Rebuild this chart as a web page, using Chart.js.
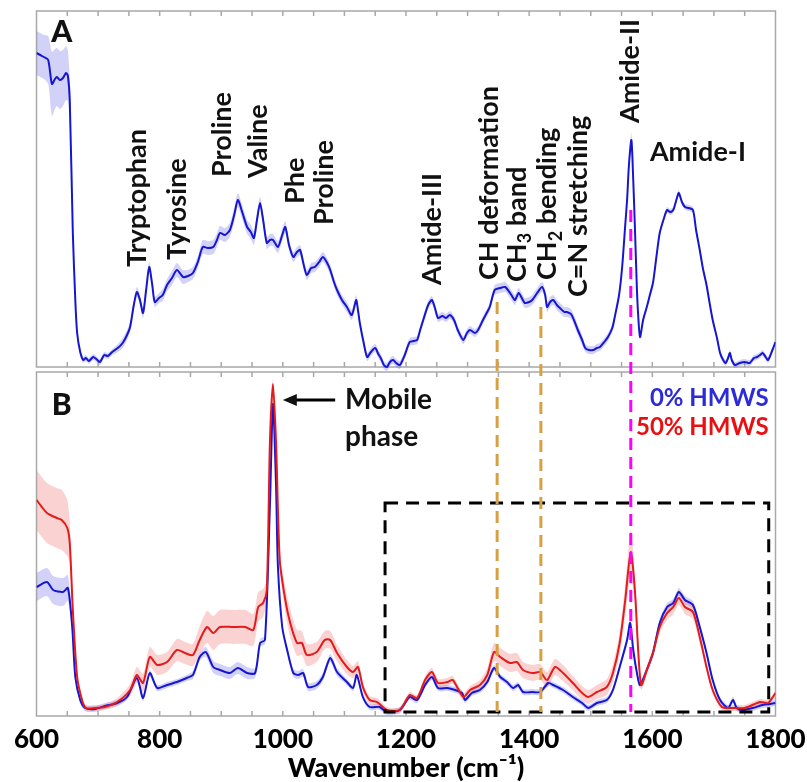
<!DOCTYPE html>
<html>
<head>
<meta charset="utf-8">
<script src="https://cdn.jsdelivr.net/npm/chart.js@4.4.1/dist/chart.umd.min.js"></script>
<style>
  html, body { margin: 0; padding: 0; background: #fff; }
</style>
</head>
<body>
<canvas id="chart" width="807" height="782"></canvas>
<script>
// Espectros: [número de onda (cm-1), intensidad media (u.a.), desviación (u.a.)]
const spectrumA = [
  [600,314,22],[606,312,22],[612,310,22],[619,307,24],[625,283,32],[630,288,30],[633,290,29],[638,287,29],[643,289,28],[648,294,27],
  [651,291,25],[654,267,20],[659,134,8],[663,67,4],[666,34,3],[671,15,3],[676,7,3],[680,9,3],[685,6,3],[692,10,3],
  [697,8,3],[703,5,3],[710,12,3],[716,11,3],[723,15,3],[732,19,4],[740,24,5],[747,32,5],[752,40,5],[758,62,5],
  [763,75,5],[768,67,5],[773,54,5],[778,77,5],[783,100,5],[788,82,5],[792,65,5],[799,69,5],[805,72,6],[812,82,6],
  [820,89,7],[828,97,7],[838,90,7],[846,91,6],[854,94,6],[862,105,6],[870,120,7],[878,119,7],[887,120,7],[893,127,7],
  [898,134,7],[906,132,7],[914,137,7],[921,152,7],[927,167,7],[934,155,7],[942,140,7],[948,135,7],[953,129,7],[958,147,6],
  [963,164,6],[968,147,6],[974,124,6],[979,127,6],[984,127,6],[992,120,6],[999,132,6],[1004,140,6],[1010,122,5],[1017,110,5],
  [1023,115,5],[1028,117,5],[1034,102,5],[1039,92,5],[1046,99,5],[1052,100,5],[1059,105,5],[1065,110,5],[1072,104,5],[1077,97,5],
  [1083,85,5],[1088,77,5],[1096,67,5],[1104,60,5],[1112,52,5],[1119,67,5],[1122,57,4],[1125,44,4],[1132,22,4],[1137,10,4],
  [1143,15,4],[1150,19,4],[1155,13,4],[1159,9,4],[1164,2,4],[1169,0,4],[1174,5,4],[1179,7,4],[1184,4,4],[1190,2,4],
  [1198,12,4],[1206,25,4],[1213,26,4],[1218,27,4],[1223,37,4],[1228,47,4],[1236,62,4],[1242,67,4],[1247,59,4],[1252,49,4],
  [1259,51,4],[1265,49,4],[1271,52,4],[1278,47,4],[1284,37,4],[1293,27,4],[1299,34,4],[1304,37,4],[1312,34,4],[1317,37,4],
  [1325,47,4],[1331,54,4],[1336,60,4],[1344,77,5],[1353,79,5],[1361,80,5],[1369,74,5],[1374,69,5],[1377,67,5],[1383,74,5],
  [1388,69,5],[1393,64,5],[1400,65,5],[1405,67,5],[1413,74,5],[1421,80,5],[1426,72,5],[1429,60,5],[1434,65,5],[1439,67,5],
  [1445,62,5],[1450,59,5],[1457,55,5],[1461,55,5],[1468,53,5],[1474,45,5],[1479,37,5],[1486,27,5],[1491,19,4],[1497,17,4],
  [1504,17,4],[1510,19,4],[1515,20,4],[1522,25,4],[1528,30,4],[1535,39,4],[1539,50,4],[1546,72,4],[1551,100,4],[1556,142,4],
  [1559,167,5],[1562,202,6],[1566,227,7],[1569,187,5],[1572,134,4],[1575,77,3],[1577,52,3],[1580,30,3],[1585,47,3],[1591,60,3],
  [1596,72,3],[1601,84,3],[1607,112,3],[1612,134,3],[1619,149,3],[1624,157,3],[1629,155,3],[1634,157,3],[1639,167,3],[1643,174,3],
  [1648,165,3],[1653,160,3],[1659,159,3],[1666,157,3],[1671,137,3],[1677,117,3],[1682,99,3],[1688,82,3],[1693,64,3],[1698,47,3],
  [1705,29,3],[1710,14,3],[1715,7,3],[1719,4,3],[1723,9,3],[1726,14,3],[1729,7,3],[1734,2,3],[1742,4,3],[1750,5,3],
  [1758,4,3],[1765,9,3],[1770,10,3],[1775,12,3],[1779,14,3],[1784,10,3],[1788,7,3],[1795,17,3],[1800,25,3]
];

// Panel B, 0% HMWS
const spectrumB0 = [
  [600,129,14],[617,134,14],[627,126,14],[643,124,14],[651,128,13],[658,89,8],[663,39,4],[671,16,3],[679,8,3],[695,7,3],
  [711,10,3],[731,13,3],[747,19,3],[763,38,3],[773,18,3],[784,43,3],[796,28,3],[812,31,3],[828,34,3],[844,38,3],
  [854,41,4],[865,59,4],[875,64,5],[887,49,6],[898,46,6],[914,43,6],[927,48,6],[942,43,6],[955,43,5],[963,73,4],
  [971,76,4],[979,210,4],[984,312,4],[989,230,4],[992,150,4],[999,89,4],[1007,66,4],[1017,43,4],[1025,41,4],[1033,43,4],
  [1041,29,4],[1055,31,4],[1065,39,4],[1077,58,4],[1088,44,4],[1104,34,3],[1114,28,3],[1120,41,3],[1130,19,3],[1141,9,3],
  [1157,9,3],[1169,4,3],[1190,6,3],[1206,19,3],[1218,16,3],[1231,31,3],[1242,39,3],[1252,28,3],[1267,28,3],[1280,26,3],
  [1291,23,3],[1296,16,3],[1307,23,3],[1320,26,3],[1332,34,3],[1343,48,3],[1353,39,3],[1364,34,3],[1374,28,3],[1382,31,3],
  [1390,24,3],[1405,24,3],[1418,24,3],[1431,33,3],[1439,31,3],[1455,26,3],[1471,19,3],[1486,13,3],[1496,8,3],[1510,13,3],
  [1526,16,3],[1536,26,3],[1547,49,3],[1559,76,4],[1564,93,4],[1569,66,4],[1575,43,3],[1580,31,3],[1591,46,3],[1601,63,3],
  [1612,93,4],[1624,109,4],[1634,113,4],[1643,124,4],[1653,116,4],[1666,111,4],[1677,89,4],[1688,63,3],[1698,36,3],[1710,16,3],
  [1723,8,3],[1731,16,3],[1737,8,3],[1747,6,3],[1763,8,3],[1779,11,3],[1791,12,3],[1800,13,3]
];

// Panel B, 50% HMWS
const spectrumB50 = [
  [600,216,30],[617,203,30],[633,198,30],[641,196,30],[650,188,28],[654,173,20],[659,106,10],[666,39,4],[674,16,3],[680,8,3],
  [695,8,3],[711,9,3],[731,14,4],[752,26,6],[763,41,8],[773,33,9],[784,59,10],[796,51,10],[812,54,10],[828,66,11],
  [841,63,11],[854,61,11],[865,76,14],[877,89,16],[887,83,17],[898,89,17],[919,89,17],[939,89,17],[952,86,16],[960,109,15],
  [968,113,14],[974,126,10],[979,273,6],[984,332,5],[989,273,6],[995,156,10],[1004,116,13],[1012,93,14],[1023,73,13],[1031,73,12],
  [1039,61,11],[1055,64,10],[1068,76,9],[1077,76,9],[1088,63,8],[1104,49,7],[1114,44,6],[1122,49,6],[1130,29,5],[1141,16,4],
  [1153,14,4],[1169,6,3],[1190,6,3],[1206,21,3],[1218,18,3],[1231,36,4],[1242,44,4],[1252,33,4],[1267,34,4],[1276,36,4],
  [1293,19,4],[1304,26,4],[1320,31,5],[1332,41,7],[1343,64,9],[1353,59,9],[1369,53,9],[1380,54,9],[1390,46,8],[1406,43,8],
  [1418,44,8],[1429,36,8],[1442,49,8],[1455,43,8],[1471,33,7],[1486,23,7],[1496,19,7],[1510,24,7],[1526,29,8],[1536,43,9],
  [1547,73,11],[1556,116,16],[1565,164,22],[1572,123,14],[1577,66,8],[1582,31,5],[1591,46,5],[1601,63,5],[1612,89,6],[1624,103,7],
  [1634,109,7],[1643,118,7],[1653,109,7],[1666,104,7],[1677,79,6],[1688,49,5],[1698,26,4],[1713,9,3],[1731,8,3],[1750,8,3],
  [1775,14,3],[1788,13,3],[1800,23,3]
];

// Etiquetas de bandas en el panel A: [texto, número de onda, intensidad donde empieza el texto]
const bandLabels = [
  ['Tryptophan', 763, 100],
  ['Tyrosine', 828, 107],
  ['Proline', 901, 190],
  ['Valine', 960, 189],
  ['Phe', 1020, 163],
  ['Proline', 1068, 142],
  ['Amide-III', 1242, 82],
  ['CH deformation', 1336, 87],
  ['CH_3 band', 1380, 85],
  ['CH_2 bending', 1430, 87],
  ['C=N stretching', 1479, 70],
  ['Amide-II', 1564, 244]
];

// Líneas verticales discontinuas: número de onda, intensidad de inicio en A, color
const markerLines = [
  [1348, 65, '#d9a043'],
  [1419, 60, '#d9a043'],
  [1565, 157, '#ff00ff']
];

const xTicks = [600, 800, 1000, 1200, 1400, 1600, 1800];
const PANEL_A_MAX = 356;
const PANEL_B_MAX = 344;

const FONT = 'Lato, "Open Sans", sans-serif';
const BLUE = '#1616d2';
const RED = '#e31b1b';

function toPoints(rows, k) {
  return rows.map(r => ({ x: r[0], y: k === 0 ? r[1] : r[1] + k * r[2] }));
}

function bandSets(rows, axis, color, order) {
  return [
    { data: toPoints(rows, -1), yAxisID: axis, borderWidth: 0, pointRadius: 0, fill: false, order: order, tension: 0.25 },
    { data: toPoints(rows, 1), yAxisID: axis, borderWidth: 0, pointRadius: 0, fill: '-1', backgroundColor: color, order: order, tension: 0.25 }
  ];
}

const datasets = [
  ...bandSets(spectrumA, 'yA', 'rgba(95,95,230,0.28)', 10),
  ...bandSets(spectrumB0, 'yB', 'rgba(95,95,230,0.28)', 9),
  ...bandSets(spectrumB50, 'yB', 'rgba(240,105,105,0.3)', 8),
  { data: toPoints(spectrumA, 0), yAxisID: 'yA', borderColor: BLUE, borderWidth: 2, pointRadius: 0, fill: false, order: 2, tension: 0.25 },
  { data: toPoints(spectrumB0, 0), yAxisID: 'yB', borderColor: BLUE, borderWidth: 2, pointRadius: 0, fill: false, order: 1, tension: 0.25 },
  { data: toPoints(spectrumB50, 0), yAxisID: 'yB', borderColor: RED, borderWidth: 2, pointRadius: 0, fill: false, order: 0, tension: 0.25 }
];

// Marcos grises de los dos paneles con marcas hacia dentro
const framePlugin = {
  id: 'frames',
  beforeDatasetsDraw(chart) {
    const { ctx, chartArea: area, scales: { x, yA, yB } } = chart;
    const boxes = [
      [yA.getPixelForValue(PANEL_A_MAX), yA.getPixelForValue(0)],
      [yB.getPixelForValue(PANEL_B_MAX), yB.getPixelForValue(0)]
    ];
    ctx.save();
    ctx.strokeStyle = '#a8a8a8';
    ctx.lineWidth = 1.5;
    boxes.forEach(([top, bottom]) => {
      ctx.strokeRect(area.left, top, area.right - area.left, bottom - top);
      ctx.beginPath();
      for (let w = 650; w < 1800; w += 50) {
        const px = x.getPixelForValue(w);
        ctx.moveTo(px, top); ctx.lineTo(px, top + 5);
        ctx.moveTo(px, bottom); ctx.lineTo(px, bottom - 5);
      }
      ctx.stroke();
    });
    ctx.restore();
  }
};

function drawParts(ctx, text, size, align) {
  const parts = text.split(/_(\d)/);
  const main = 'bold ' + size + 'px ' + FONT;
  const sub = 'bold ' + Math.round(size * 0.68) + 'px ' + FONT;
  let total = 0;
  parts.forEach((p, i) => { ctx.font = i % 2 ? sub : main; total += ctx.measureText(p).width; });
  let cx = align === 'center' ? -total / 2 : 0;
  ctx.textAlign = 'left';
  ctx.textBaseline = 'middle';
  parts.forEach((p, i) => {
    ctx.font = i % 2 ? sub : main;
    ctx.fillText(p, cx, i % 2 ? size * 0.3 : 0);
    cx += ctx.measureText(p).width;
  });
}

// Anotaciones: líneas, recuadro, textos, flecha
const notesPlugin = {
  id: 'notes',
  afterDatasetsDraw(chart) {
    const { ctx, scales: { x, yA, yB } } = chart;
    ctx.save();

    // recuadro negro discontinuo
    ctx.setLineDash([13, 8]);
    ctx.lineWidth = 3;
    ctx.strokeStyle = '#000';
    const rx0 = x.getPixelForValue(1166), rx1 = x.getPixelForValue(1789);
    const ry0 = yB.getPixelForValue(213), ry1 = yB.getPixelForValue(4);
    ctx.strokeRect(rx0, ry0, rx1 - rx0, ry1 - ry0);

    // líneas verticales
    ctx.setLineDash([12, 7]);
    markerLines.forEach(([w, from, color]) => {
      const px = x.getPixelForValue(w);
      ctx.strokeStyle = color;
      ctx.beginPath();
      ctx.moveTo(px, yA.getPixelForValue(from));
      ctx.lineTo(px, yB.getPixelForValue(4));
      ctx.stroke();
    });
    ctx.setLineDash([]);

    ctx.fillStyle = '#111';
    bandLabels.forEach(([text, w, v]) => {
      ctx.save();
      ctx.translate(x.getPixelForValue(w), yA.getPixelForValue(v));
      ctx.rotate(-Math.PI / 2);
      drawParts(ctx, text, 27, 'left');
      ctx.restore();
    });

    ctx.save();
    ctx.translate(x.getPixelForValue(1674), yA.getPixelForValue(215));
    drawParts(ctx, 'Amide-I', 27, 'center');
    ctx.restore();

    ctx.textBaseline = 'middle';
    ctx.textAlign = 'center';
    ctx.font = '900 30px ' + FONT;
    ctx.fillText('A', x.getPixelForValue(641), yA.getPixelForValue(335));
    ctx.fillText('B', x.getPixelForValue(641), yB.getPixelForValue(311));

    // flecha hacia el pico de la fase móvil
    const ax0 = x.getPixelForValue(1085), ax1 = x.getPixelForValue(1000), ay = yB.getPixelForValue(316);
    ctx.strokeStyle = '#000';
    ctx.lineWidth = 3;
    ctx.beginPath();
    ctx.moveTo(ax0, ay); ctx.lineTo(ax1 + 10, ay);
    ctx.stroke();
    ctx.beginPath();
    ctx.moveTo(ax1, ay); ctx.lineTo(ax1 + 14, ay - 6); ctx.lineTo(ax1 + 14, ay + 6); ctx.closePath();
    ctx.fill();

    ctx.textAlign = 'left';
    ctx.font = 'bold 28px ' + FONT;
    ctx.fillText('Mobile', x.getPixelForValue(1101), yB.getPixelForValue(316));
    ctx.fillText('phase', x.getPixelForValue(1101), yB.getPixelForValue(279));

    ctx.textAlign = 'right';
    ctx.font = 'bold 24px ' + FONT;
    ctx.fillStyle = '#2b2bd8';
    ctx.fillText('0% HMWS', x.getPixelForValue(1789), yB.getPixelForValue(318));
    ctx.fillStyle = '#e81010';
    ctx.fillText('50% HMWS', x.getPixelForValue(1789), yB.getPixelForValue(289));

    ctx.restore();
  }
};

new Chart(document.getElementById('chart'), {
  type: 'line',
  data: { datasets },
  options: {
    responsive: false,
    animation: false,
    events: [],
    layout: { padding: { left: 36.5, right: 31.5, top: 11, bottom: 0 } },
    plugins: { legend: { display: false }, tooltip: { enabled: false } },
    scales: {
      x: {
        type: 'linear',
        min: 600,
        max: 1800,
        grid: { display: false, drawTicks: false },
        border: { display: false },
        afterBuildTicks: s => { s.ticks = xTicks.map(v => ({ value: v })); },
        ticks: {
          padding: 8,
          color: '#000',
          maxRotation: 0,
          autoSkip: false,
          font: { family: FONT, weight: '900', size: 26 },
          callback: v => String(v)
        },
        title: {
          display: true,
          text: 'Wavenumber (cm⁻¹)',
          color: '#000',
          padding: 0,
          font: { family: FONT, weight: '900', size: 27, lineHeight: 1 }
        },
        afterFit: s => { s.height = 66; s.paddingLeft = 0; s.paddingRight = 0; }
      },
      yA: { type: 'linear', display: false, min: PANEL_A_MAX - 705, max: PANEL_A_MAX },
      yB: { type: 'linear', display: false, min: 0, max: 705 }
    }
  },
  plugins: [framePlugin, notesPlugin]
});
</script>
</body>
</html>
